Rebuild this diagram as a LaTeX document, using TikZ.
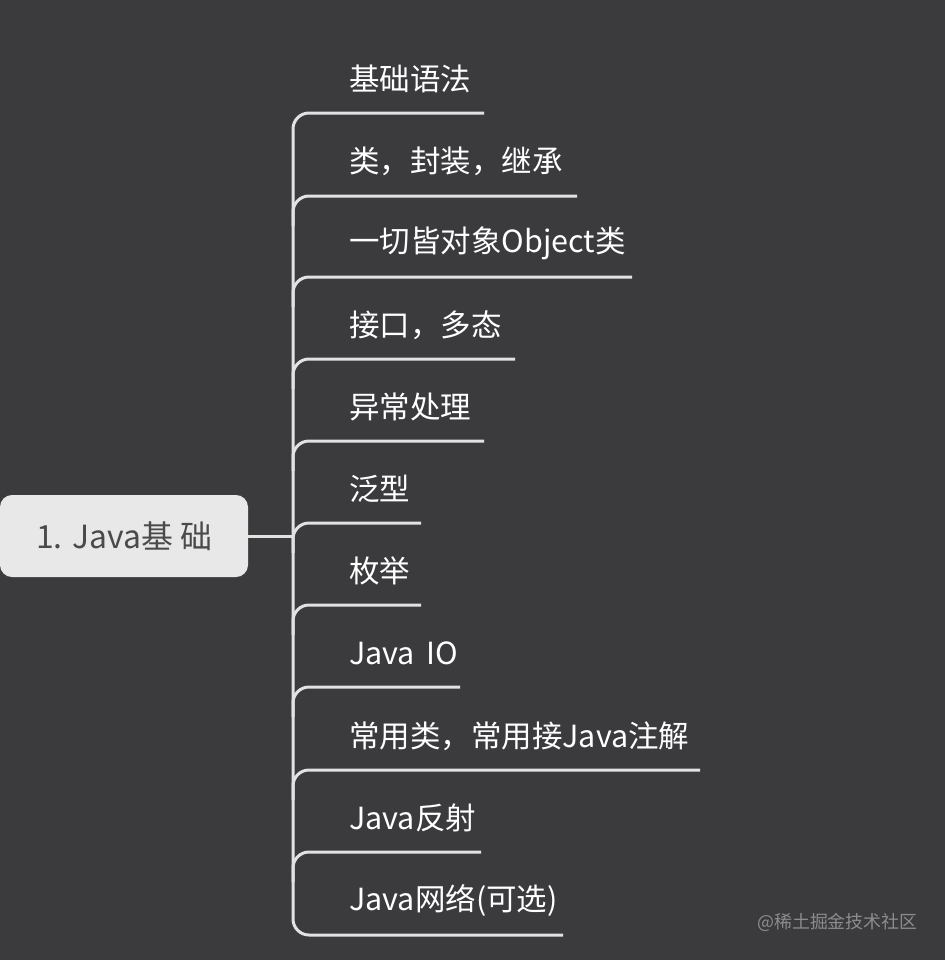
\documentclass[tikz,border=0pt]{standalone}
\usepackage{fontspec}
\setmainfont{Noto Sans CJK SC}
\definecolor{bg}{HTML}{3B3B3E}
\definecolor{ln}{HTML}{E2E2E2}
\definecolor{rootfill}{HTML}{E8E8E8}
\definecolor{roottext}{HTML}{4A4A4A}
\definecolor{wm}{HTML}{8C8C8C}
\begin{document}
\begin{tikzpicture}[x=1bp,y=-1bp,
  item/.style={anchor=west,inner sep=0pt,text=white,font=\fontsize{30.6}{36}\selectfont},
  branch/.style={draw=ln,line width=3bp,rounded corners=16bp},
  rootbox/.style={fill=rootfill,rounded corners=12bp,minimum width=248bp,minimum height=82bp,inner sep=0pt,text=roottext,font=\fontsize{32}{38}\selectfont}]
\fill[bg] (0,0) rectangle (945,960);
\useasboundingbox (0,0) rectangle (945,960);
\node[rootbox] (root) at (124,536) {1. Java基 础};
\coordinate (spine) at (293,536);
\draw[ln,line width=3bp] (root.east) -- (spine);
% items
\node[item] (t1) at (349,79) {基础语法};
\node[item] (t2) at (349,161) {类，封装，继承};
\node[item] (t3) at (349,243) {一切皆对象Object类};
\node[item] (t4) at (349,325) {接口，多态};
\node[item] (t5) at (349,407) {异常处理};
\node[item] (t6) at (349,489) {泛型};
\node[item] (t7) at (349,571) {枚举};
\node[item] (t8) at (349,653) {Java\,\ IO};
\node[item] (t9) at (349,736) {常用类，常用接Java注解};
\node[item] (t10) at (349,818) {Java反射};
\node[item] (t11) at (349,900) {Java网络(可选)};
% underline ends
\coordinate (e1) at (484,113);
\coordinate (e2) at (577,196);
\coordinate (e3) at (632,277);
\coordinate (e4) at (515,359);
\coordinate (e5) at (484,441);
\coordinate (e6) at (421,523);
\coordinate (e7) at (421,605);
\coordinate (e8) at (460,687);
\coordinate (e9) at (700,770);
\coordinate (e10) at (481,852);
\coordinate (e11) at (563,935);
% spine with first and last
\draw[branch] (e1) -- (spine |- e1) -- (spine |- e11) -- (e11);
\foreach \i in {2,...,10}{
  \draw[branch] ([yshift=-30bp]spine |- e\i) -- (spine |- e\i) -- (e\i);
}
\node[anchor=west,inner sep=0pt,text=wm,font=\fontsize{18}{21}\selectfont] (wm) at (757,922) {@稀土掘金技术社区};
\end{tikzpicture}
\end{document}
